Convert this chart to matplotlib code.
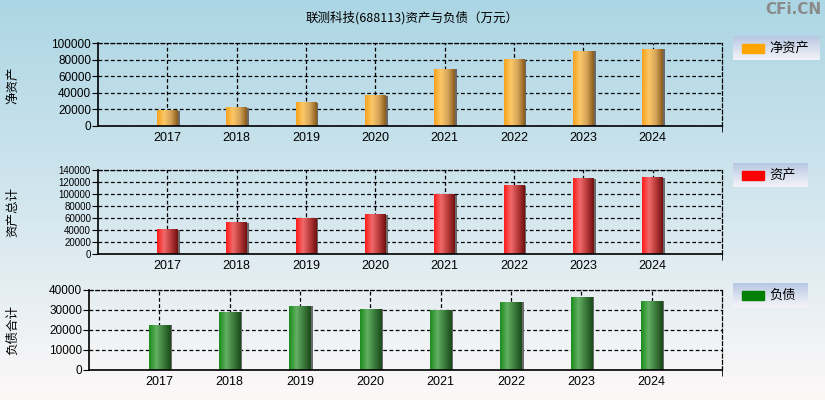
import numpy as np
import matplotlib.pyplot as plt
from matplotlib.colors import LinearSegmentedColormap
from matplotlib.patches import Rectangle

plt.rcParams['font.family'] = ['Noto Sans CJK SC', 'DejaVu Sans']

years = ['2017', '2018', '2019', '2020', '2021', '2022', '2023', '2024']
net_assets = [18300, 21900, 27900, 36300, 68500, 79700, 90000, 92400]
total_assets = [40500, 51700, 60000, 65500, 98900, 113900, 125500, 126800]
liabilities = [22500, 29000, 32000, 30500, 29800, 34000, 36500, 34500]

W, H = 825, 400
fig = plt.figure(figsize=(W / 100, H / 100), dpi=100)

# background gradient
bg = fig.add_axes([0, 0, 1, 1], zorder=-10)
bg_cmap = LinearSegmentedColormap.from_list('bg', ['#acd6e4', '#d2e6ee', '#fdf8f8'])
bg.imshow(np.linspace(0, 1, 256).reshape(-1, 1), cmap=bg_cmap, aspect='auto',
          extent=[0, 1, 0, 1])
bg.axis('off')

fig.text(412 / W, 1 - 18 / H, '联测科技(688113)资产与负债（万元）', ha='center', va='center',
         fontsize=9)
fig.text(821 / W, 1 - 10 / H, 'CFi.CN', ha='right', va='center', fontsize=11,
         fontweight='bold', color='#8a8a8a', family='DejaVu Sans')


def fig_rect(x0, y0, x1, y1):
    return [x0 / W, 1 - y1 / H, (x1 - x0) / W, (y1 - y0) / H]


def draw_panel(rect, values, ymax, ystep, stops, ylabel, ylabel_y, leg_label,
               leg_color, leg_rect, tick_size):
    ax = fig.add_axes(fig_rect(*rect))
    ax.patch.set_alpha(0)
    x = np.arange(len(years))
    cmap = LinearSegmentedColormap.from_list('bar', stops)
    grad = np.linspace(0, 1, 64).reshape(1, -1)
    width = 0.3
    ax.bar(x + 0.03, values, width=width, color='#6a6a6a', zorder=1.5)
    bars = ax.bar(x, values, width=width, color=stops[0], zorder=2)
    for b in bars:
        x0, y0 = b.get_x(), b.get_y()
        ax.imshow(grad, cmap=cmap, aspect='auto', zorder=2.1,
                  extent=[x0, x0 + b.get_width(), y0, y0 + b.get_height()])
    ax.set_xlim(-1, 8)
    ax.set_ylim(0, ymax)
    ax.set_aspect('auto')
    ax.set_xticks(x)
    ax.set_xticklabels(years, family='Liberation Sans', fontsize=9)
    ax.set_xticks([8], minor=True)
    ax.set_yticks(np.arange(0, ymax + 1, ystep))
    ax.set_yticklabels([str(v) for v in np.arange(0, ymax + 1, ystep)],
                       family='Liberation Sans', fontsize=tick_size)
    ax.tick_params(axis='x', which='major', length=0, pad=4)
    ax.tick_params(axis='x', which='minor', length=4, direction='out')
    ax.tick_params(axis='y', length=4, direction='out', pad=1)
    ax.set_axisbelow(True)
    ax.grid(True, color='black', linestyle=(0, (3, 2)), linewidth=0.9)
    for side in ['top', 'right']:
        ax.spines[side].set_linestyle((0, (3, 2)))
        ax.spines[side].set_linewidth(0.9)
    for side in ['left', 'bottom']:
        ax.spines[side].set_linewidth(1.2)
    fig.text(13 / W, 1 - ylabel_y / H, ylabel, rotation=90, ha='center', va='center',
             fontsize=9)

    # legend box
    lx0, ly0, lx1, ly1 = leg_rect
    lg = fig.add_axes(fig_rect(*leg_rect))
    lg_cmap = LinearSegmentedColormap.from_list('lg', ['#b8c8e2', '#f4f4f8'])
    lg.imshow(np.linspace(0, 1, 64).reshape(-1, 1), cmap=lg_cmap, aspect='auto',
              extent=[0, lx1 - lx0, ly1 - ly0, 0])
    lg.set_xlim(0, lx1 - lx0)
    lg.set_ylim(ly1 - ly0, 0)
    lg.add_patch(Rectangle((9, 7.5), 22, 9, color=leg_color))
    lg.text(36, 12, leg_label, va='center', ha='left', fontsize=9.5)
    lg.axis('off')
    return ax


draw_panel((98, 43, 722, 126), net_assets, 100000, 20000,
           ['#f7a21c', '#fcc867', '#d6a45a', '#8a5c18'],
           '净资产', 85, '净资产', '#ffa500', (733, 36, 820, 60), 8.5)
draw_panel((98, 170, 722, 254), total_assets, 140000, 20000,
           ['#ff1a1a', '#f06a6a', '#b83a3a', '#701010'],
           '资产总计', 212, '资产', '#ff0000', (733, 163, 808, 187), 7)
draw_panel((89, 290, 722, 370), liabilities, 40000, 10000,
           ['#1c8c1c', '#62b062', '#3c7c3c', '#1a4a1a'],
           '负债合计', 330, '负债', '#008000', (733, 283, 808, 307), 8.5)

fig.savefig('out.png', dpi=100)
